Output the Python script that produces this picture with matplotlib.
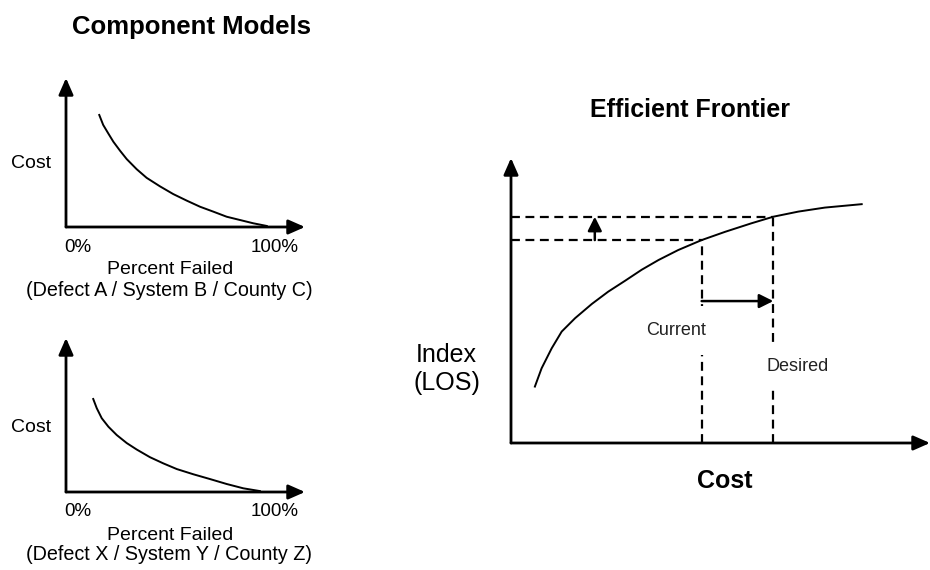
import matplotlib
matplotlib.use('Agg')
import matplotlib.pyplot as plt

plt.rcParams['font.family'] = ['Liberation Sans', 'DejaVu Sans']

W, H = 930, 570

# component models: percent failed vs cost (arbitrary units)
pct_a = [16.0, 17.9, 20.3, 22.8, 26.0, 29.2, 34.0, 38.8, 45.2, 51.6, 58.1,
         64.5, 70.9, 77.3, 83.7, 90.1, 96.6]
cost_a = [75.2, 68.5, 62.9, 57.2, 51.2, 45.6, 38.8, 33.0, 27.3, 22.1, 17.7,
          13.6, 10.3, 6.9, 4.7, 2.5, 0.7]
pct_x = [13.1, 14.8, 17.2, 20.4, 24.4, 29.2, 34.0, 40.4, 46.8, 53.3, 61.3,
         69.3, 77.3, 85.3, 93.3]
cost_x = [60.4, 54.4, 47.9, 42.4, 37.0, 31.8, 27.6, 22.6, 18.6, 14.9, 11.5,
          8.4, 5.2, 2.4, 0.6]
model_labels = ['(Defect A / System B / County C)', '(Defect X / System Y / County Z)']

# efficient frontier: cost vs index (LOS)
front_cost = [5.7, 7.3, 9.7, 12.1, 15.3, 19.3, 23.2, 27.2, 31.2, 35.2, 39.9,
              45.5, 51.1, 57.4, 62.6, 68.6, 74.9, 83.7]
front_los = [19.8, 26.2, 33.2, 39.1, 43.8, 48.8, 53.1, 56.9, 60.8, 64.2, 67.7,
             71.2, 74.1, 77.1, 79.4, 81.2, 82.6, 83.8]
current_i, desired_i = 11, 14
shift_cost = 20      # where the up arrow sits
shift_los = 49.8     # where the right arrow sits


def rect(l, t, r, b):
    return [l / W, 1 - b / H, (r - l) / W, (b - t) / H]


def fpos(x, y):
    return x / W, 1 - y / H


def axis_arrows(ax):
    st = dict(arrowstyle='-|>,head_length=0.5,head_width=0.22', lw=2,
              color='black', shrinkA=0, shrinkB=0, mutation_scale=20)
    ax.annotate('', xy=(1, 0), xytext=(0, 0), xycoords='axes fraction',
                arrowprops=st, annotation_clip=False)
    ax.annotate('', xy=(0, 1), xytext=(0, 0), xycoords='axes fraction',
                arrowprops=st, annotation_clip=False)


fig = plt.figure(figsize=(W / 100, H / 100), dpi=100)

fig.text(*fpos(191, 27), 'Component Models', fontsize=18.5, fontweight='bold',
         ha='center', va='center')

# two component model panels
panels = [(78, 227, pct_a, cost_a), (338, 492, pct_x, cost_x)]
for k, (top, bot, px, py) in enumerate(panels):
    ax = fig.add_axes(rect(66, top, 305, bot))
    ax.set_xlim(0, 115)
    ax.set_ylim(0, 100)
    ax.axis('off')
    ax.plot(px, py, color='black', lw=1.4, clip_on=False)
    axis_arrows(ax)
    ymid = bot - 64
    fig.text(*fpos(11, ymid), 'Cost', fontsize=14, ha='left', va='center')
    fig.text(*fpos(64, bot + 20), '0%', fontsize=13.5, ha='left', va='center')
    fig.text(*fpos(275, bot + 20), '100%', fontsize=13.5, ha='center', va='center')
    fig.text(*fpos(170, bot + 43), 'Percent Failed', fontsize=14, ha='center', va='center')
    fig.text(*fpos(169, bot + 63), model_labels[k], fontsize=14.2, ha='center', va='center')

# efficient frontier panel
fig.text(*fpos(690, 110), 'Efficient Frontier', fontsize=18, fontweight='bold',
         ha='center', va='center')
ax = fig.add_axes(rect(511, 158, 930, 443))
ax.set_xlim(0, 100)
ax.set_ylim(0, 100)
ax.axis('off')
ax.plot(front_cost, front_los, color='black', lw=1.4)
axis_arrows(ax)

cx, cy = front_cost[current_i], front_los[current_i]
dx, dy = front_cost[desired_i], front_los[desired_i]
dash = dict(color='black', lw=1.6, ls=(0, (4, 2.5)))
ax.plot([0, cx], [cy, cy], **dash)
ax.plot([0, dx], [dy, dy], **dash)
ax.plot([cx, cx], [0, cy], **dash)
ax.plot([dx, dx], [0, dy], **dash)

small = dict(arrowstyle='-|>,head_length=0.6,head_width=0.3', lw=1.8,
             color='black', shrinkA=0, shrinkB=0, mutation_scale=14)
ax.annotate('', xy=(shift_cost, dy), xytext=(shift_cost, cy), arrowprops=small)
ax.annotate('', xy=(dx, shift_los), xytext=(cx, shift_los), arrowprops=small)

ax.text(32.3, 39.5, 'Current', fontsize=13, color='#222222', ha='left', va='center',
        bbox=dict(boxstyle='square,pad=0.9', fc='white', ec='none'), zorder=5)
ax.text(61.0, 27.0, 'Desired', fontsize=13, color='#222222', ha='left', va='center',
        bbox=dict(boxstyle='square,pad=0.7', fc='white', ec='none'), zorder=5)

fig.text(*fpos(446, 355), 'Index', fontsize=18, ha='center', va='center')
fig.text(*fpos(447, 383), '(LOS)', fontsize=18, ha='center', va='center')
fig.text(*fpos(725, 481), 'Cost', fontsize=18, fontweight='bold', ha='center', va='center')

fig.savefig('out.png', dpi=100)
